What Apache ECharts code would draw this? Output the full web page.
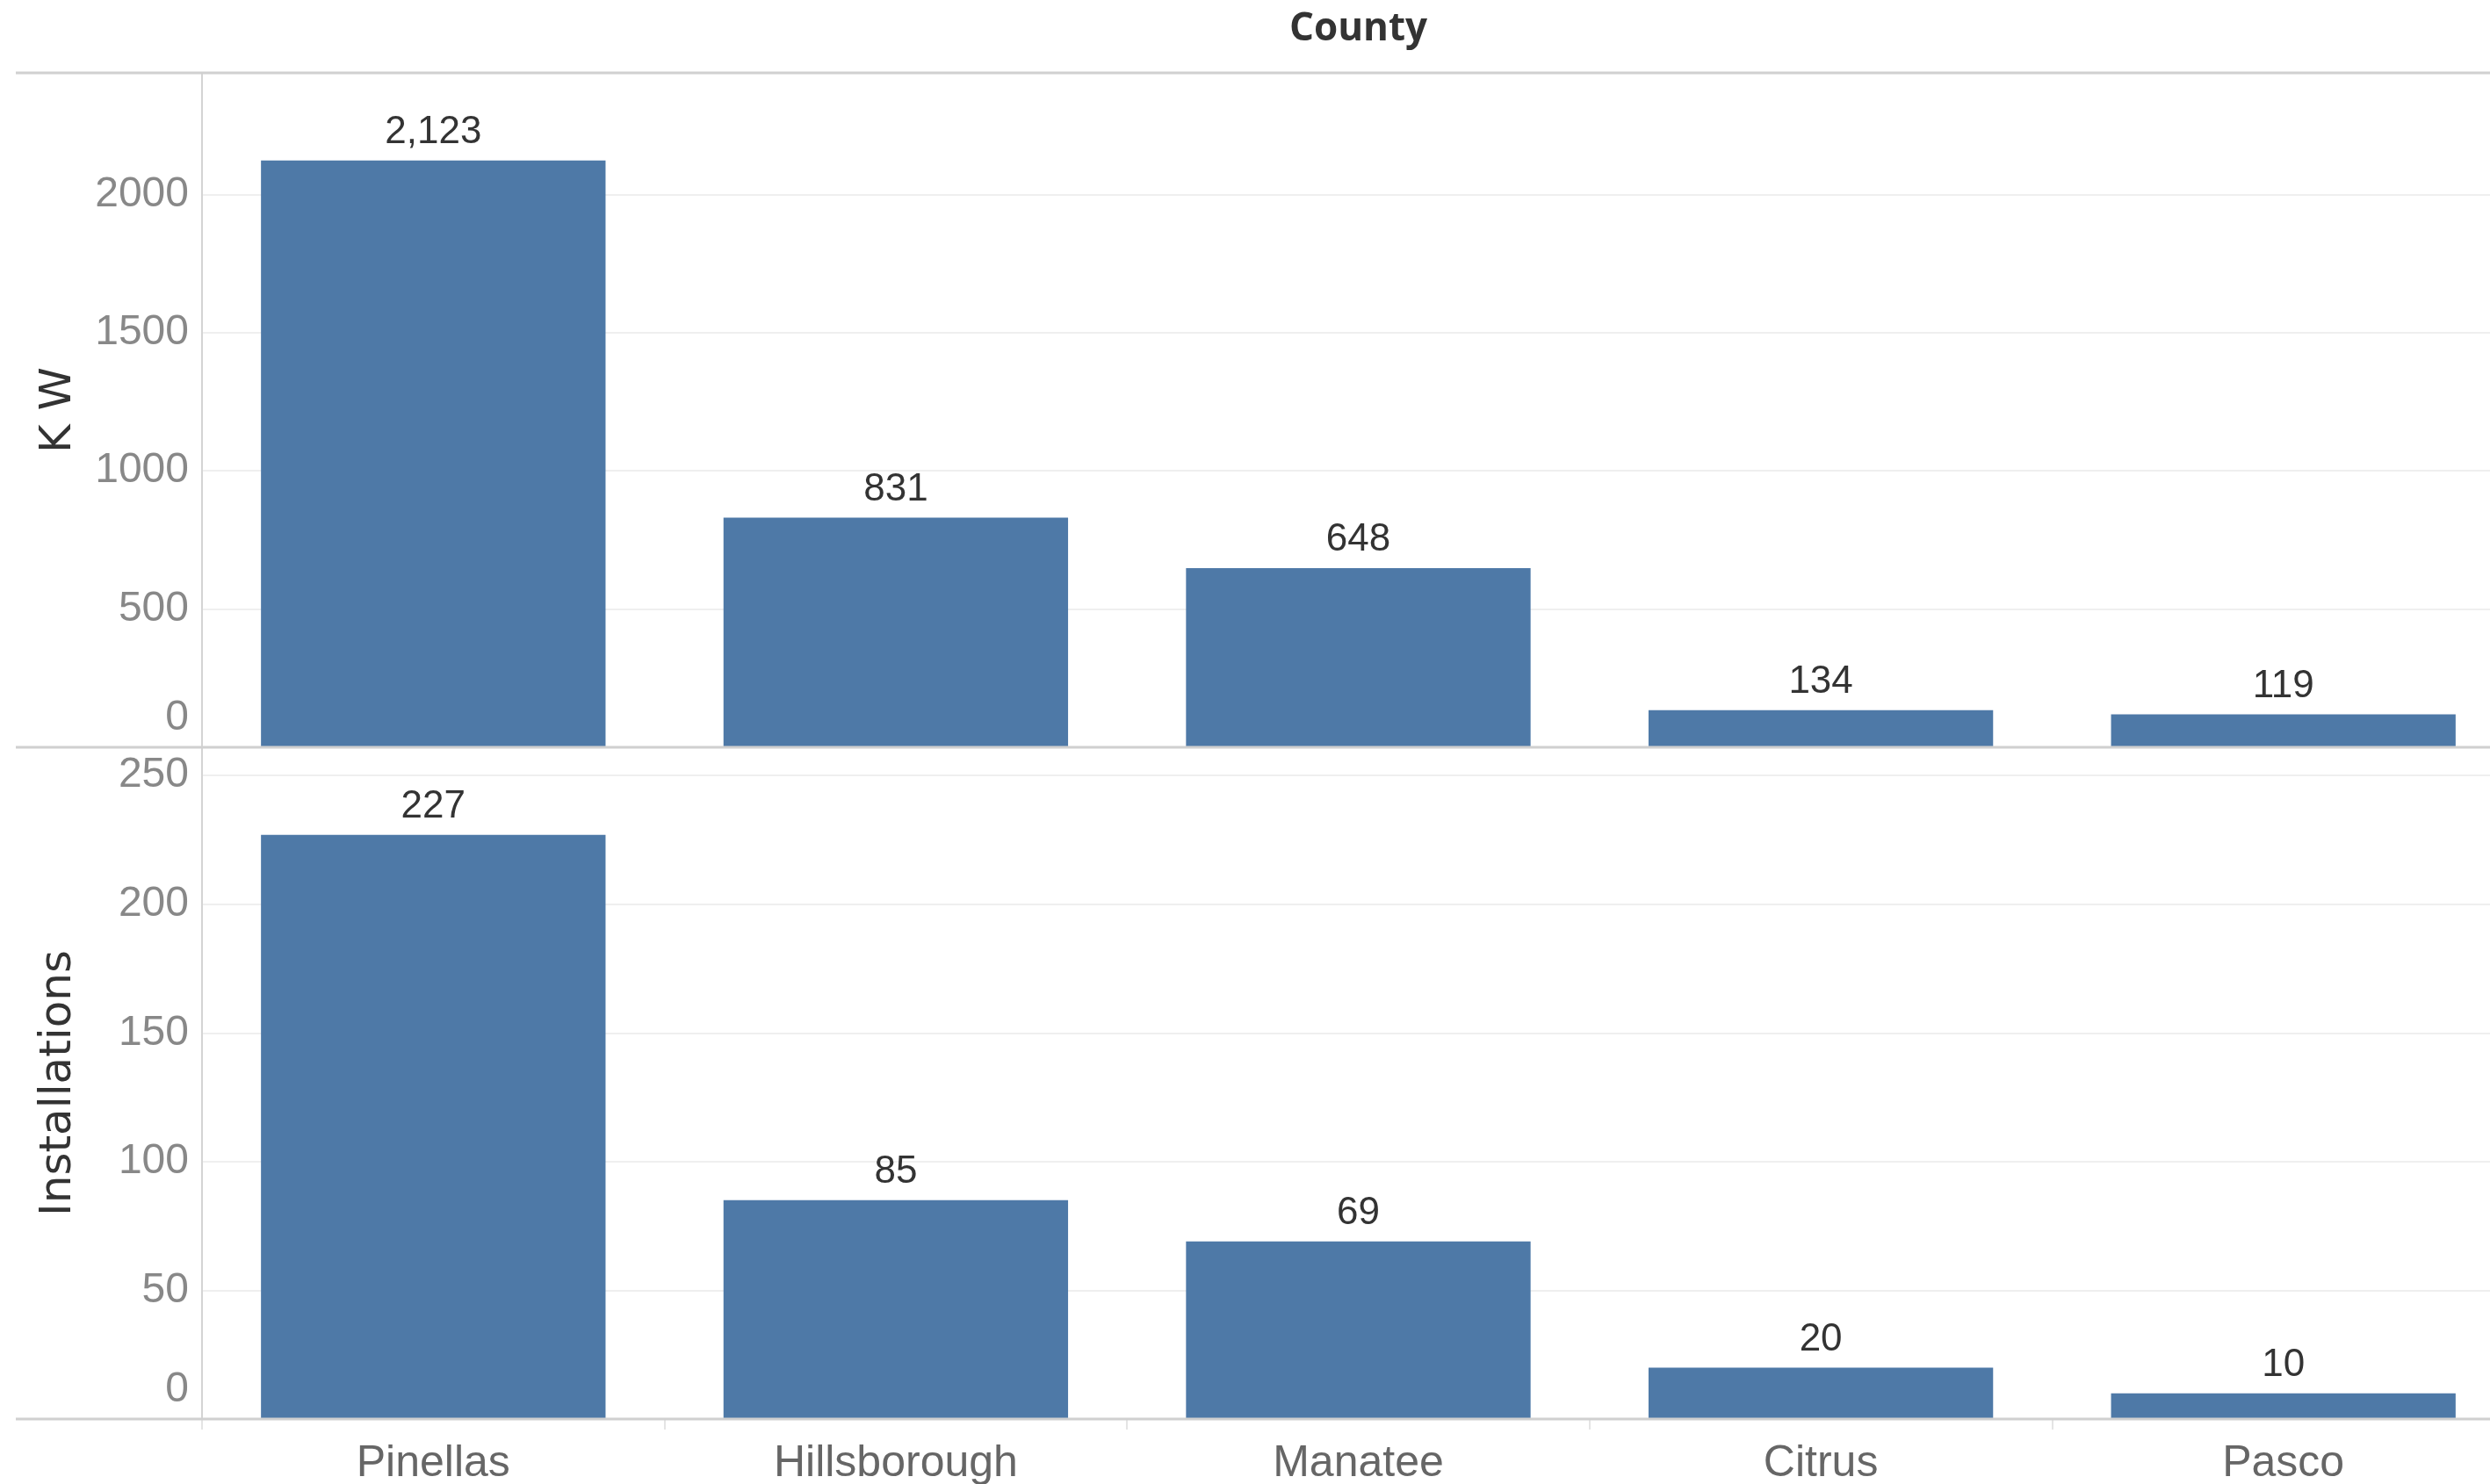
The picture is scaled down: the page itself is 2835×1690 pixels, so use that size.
<!DOCTYPE html>
<html lang="en">
<head>
<meta charset="UTF-8">
<title>KW and installations by county</title>
<script src="https://cdn.jsdelivr.net/npm/echarts@6/dist/echarts.min.js"></script>
</head>
<body style="margin: 0; background: #fff">
<div id="chart" style="width: 2835px; height: 1690px"></div>
<script>
    // data
    let counties = ['Pinellas', 'Hillsborough', 'Manatee', 'Citrus', 'Pasco'];
    let kw = [2123, 831, 648, 134, 119];
    let installations = [227, 85, 69, 20, 10];
    let kwTicks = [0, 500, 1000, 1500, 2000];
    let installTicks = [0, 50, 100, 150, 200, 250];

    // panel layout (the plot runs a little past the right edge, as in the reference)
    let plotLeft = 230, plotWidth = 2633;
    let yTop = 83, yMid = 851, yBottom = 1616;

    let barBlue = '#4e79a7';
    let ruleColor = '#d0d0d0';

    function tickFormatter(ticks) {
        return function (v) {
            if (v === 0) return '{z|0}';
            return ticks.indexOf(v) >= 0 ? String(v) : '';
        };
    }

    function valueAxis(gridIndex, max, interval, ticks, name) {
        return {
            gridIndex: gridIndex,
            type: 'value',
            min: 0,
            max: max,
            interval: interval,
            name: name,
            nameLocation: 'middle',
            nameGap: 138,
            nameMoveOverlap: false,
            nameTextStyle: {fontFamily: 'DejaVu Sans', fontSize: 50, color: '#333'},
            axisLine: {show: true, lineStyle: {color: '#d4d4d4', width: 2}},
            axisTick: {show: false},
            axisLabel: {
                showMaxLabel: false,
                margin: 15,
                fontFamily: 'Liberation Sans',
                fontSize: 48,
                color: '#888',
                formatter: tickFormatter(ticks),
                rich: {z: {fontFamily: 'Liberation Sans', fontSize: 48, color: '#888', padding: [0, 0, 66, 0]}}
            },
            splitLine: {show: true, lineStyle: {color: '#efefef', width: 2}}
        };
    }

    function barSeries(axisIndex, values) {
        return {
            type: 'bar',
            xAxisIndex: axisIndex,
            yAxisIndex: axisIndex,
            data: values,
            barWidth: '74.5%',
            itemStyle: {color: barBlue},
            label: {
                show: true,
                position: 'top',
                distance: 10,
                fontFamily: 'Liberation Sans',
                fontSize: 44,
                color: '#333',
                formatter: function (p) { return p.value.toLocaleString('en-US'); }
            }
        };
    }

    function rule(y) {
        return {
            type: 'line',
            z: 50,
            shape: {x1: 18, y1: y, x2: 2835, y2: y},
            style: {stroke: ruleColor, lineWidth: 3}
        };
    }

    let myChart = echarts.init(document.getElementById('chart'));
    let option = {
        backgroundColor: '#fff',
        animation: false,
        grid: [
            {left: plotLeft, width: plotWidth, top: yTop, height: yMid - yTop, outerBoundsMode: 'none'},
            {left: plotLeft, width: plotWidth, top: yMid, height: yBottom - yMid, outerBoundsMode: 'none'}
        ],
        xAxis: [
            {
                gridIndex: 0,
                type: 'category',
                data: counties,
                position: 'top',
                name: 'County',
                nameLocation: 'middle',
                nameGap: 28,
                nameTextStyle: {fontFamily: 'Open Sans', fontWeight: 'bold', fontSize: 44, color: '#333'},
                axisLine: {show: false},
                axisTick: {show: false},
                axisLabel: {show: false}
            },
            {
                gridIndex: 1,
                type: 'category',
                data: counties,
                axisLine: {show: false},
                axisTick: {show: true, length: 12, lineStyle: {color: '#e4e4e4', width: 2}},
                axisLabel: {margin: 26, fontFamily: 'Liberation Sans', fontSize: 50, color: '#666'}
            }
        ],
        yAxis: [
            valueAxis(0, 2440, 500, kwTicks, 'K W'),
            valueAxis(1, 261, 50, installTicks, 'Installations')
        ],
        series: [
            barSeries(0, kw),
            barSeries(1, installations)
        ],
        graphic: [rule(yTop), rule(yMid), rule(yBottom)]
    };
    myChart.setOption(option);
</script>
</body>
</html>
